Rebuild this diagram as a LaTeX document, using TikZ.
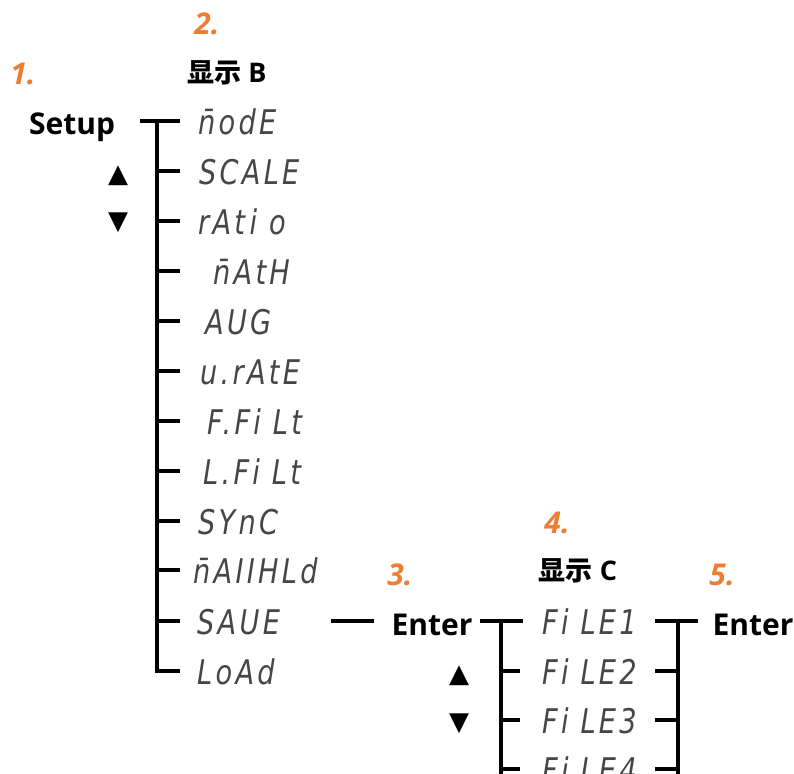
\documentclass[tikz,border=0pt]{standalone}
\usepackage{graphicx}
\usepackage{fontspec}
\setmainfont{Open Sans}
\newfontfamily\cjk{Noto Sans CJK SC}
\newfontfamily\segfont[LetterSpace=12]{DejaVu Sans}
\newfontfamily\symfont{DejaVu Sans}
\definecolor{numorange}{RGB}{237,125,49}
\definecolor{seggray}{RGB}{70,70,70}
\newcommand\sg[1]{\scalebox{0.8}[1]{#1}}
\tikzset{
  branch/.style={line width=3.2pt, line cap=butt, line join=miter},
  keyt/.style={font=\fontsize{30}{32}\selectfont\bfseries, inner sep=0pt, anchor=base},
  stepnum/.style={font=\fontsize{30}{32}\selectfont\bfseries\itshape, text=numorange, inner sep=0pt, anchor=base},
  disp/.style={font=\fontsize{27}{30}\selectfont\bfseries, inner sep=0pt, anchor=base},
  seg/.style={font=\segfont\itshape\fontsize{34}{36}\selectfont, text=seggray, inner sep=0pt, anchor=base west},
  tri/.style={font=\symfont\fontsize{26}{28}\selectfont, inner sep=0pt}
}
\begin{document}
\begin{tikzpicture}[x=1pt,y=-1pt]
\useasboundingbox (0,0) rectangle (794,773);
\clip (0,0) rectangle (794,773);
% step numbers
\node[stepnum] (n1) at (23,85) {1.};
\node[stepnum] (n2) at (207,35) {2.};
\node[stepnum] (n3) at (400,585) {3.};
\node[stepnum] (n4) at (557,533) {4.};
\node[stepnum] (n5) at (722,585) {5.};
% display headers
\node[disp] (dispB) at (227,83) {{\cjk\bfseries 显示} B};
\node[disp] (dispC) at (578,580) {{\cjk\bfseries 显示} C};
% keys
\node[keyt] (setup) at (72,135) {Setup};
\node[keyt] (enterA) at (432,635) {Enter};
\node[keyt] (enterB) at (753,635) {Enter};
\node[tri] (upA) at (118,176) {▲};
\node[tri] (dnA) at (118,223) {▼};
\node[tri] (upB) at (459,676) {▲};
\node[tri] (dnB) at (459,724) {▼};
% menu B items
\node[seg] (b1) at (198,134) {\sg{n̄odE}};
\node[seg] (b2) at (199,184) {\sg{SCALE}};
\node[seg] (b3) at (198,234) {\sg{rAt\,i o}};
\node[seg] (b4) at (213,284) {\sg{n̄AtH}};
\node[seg] (b5) at (205,334) {\sg{AUG}};
\node[seg] (b6) at (200,384) {\sg{u.rAtE}};
\node[seg] (b7) at (207,434) {\sg{F.Fi Lt}};
\node[seg] (b8) at (203,484) {\sg{L.Fi Lt}};
\node[seg] (b9) at (198,534) {\sg{SYnC}};
\node[seg] (b10) at (193,583) {\sg{n̄AIIHLd}};
\node[seg] (b11) at (197,634) {\sg{SAUE}};
\node[seg] (b12) at (197,684) {\sg{LoAd}};
% menu C items
\node[seg] (c1) at (542,634) {\sg{Fi LE1}};
\node[seg] (c2) at (542,684) {\sg{Fi LE2}};
\node[seg] (c3) at (542,733) {\sg{Fi LE3}};
\node[seg] (c4) at (542,782) {\sg{Fi LE4}};
% tree B
\coordinate (s0) at (140,121);
\coordinate (sp) at (157,121);
\foreach \i/\y in {1/121,2/171,3/221,4/271,5/321,6/371,7/421,8/471,9/521,10/570,11/621,12/671}{
  \coordinate (t\i) at (180,\y);
}
\draw[branch] (s0) -- (t1);
\draw[branch] (sp) |- (t12);
\foreach \i in {2,...,11}{
  \draw[branch] (sp |- t\i) -- (t\i);
}
% save -> enter
\coordinate (sv0) at (331,621);
\coordinate (sv1) at (374,621);
\draw[branch] (sv0) -- (sv1);
% tree C
\coordinate (c0) at (480,621);
\coordinate (cs) at (501,621);
\coordinate (cb) at (501,790);
\foreach \i/\y in {1/621,2/671,3/720,4/769}{
  \coordinate (u\i) at (520,\y);
  \coordinate (v\i) at (655,\y);
}
\draw[branch] (c0) -- (523,621);
\draw[branch] (cs) -- (cb);
\foreach \i in {2,3,4}{ \draw[branch] (cs |- u\i) -- (u\i); }
% tree D
\coordinate (ds) at (678,621);
\coordinate (db) at (678,790);
\coordinate (d1) at (698,621);
\draw[branch] (v1) -- (d1);
\draw[branch] (ds) -- (db);
\foreach \i in {2,3,4}{ \draw[branch] (v\i) -- (ds |- v\i); }
\end{tikzpicture}
\end{document}
